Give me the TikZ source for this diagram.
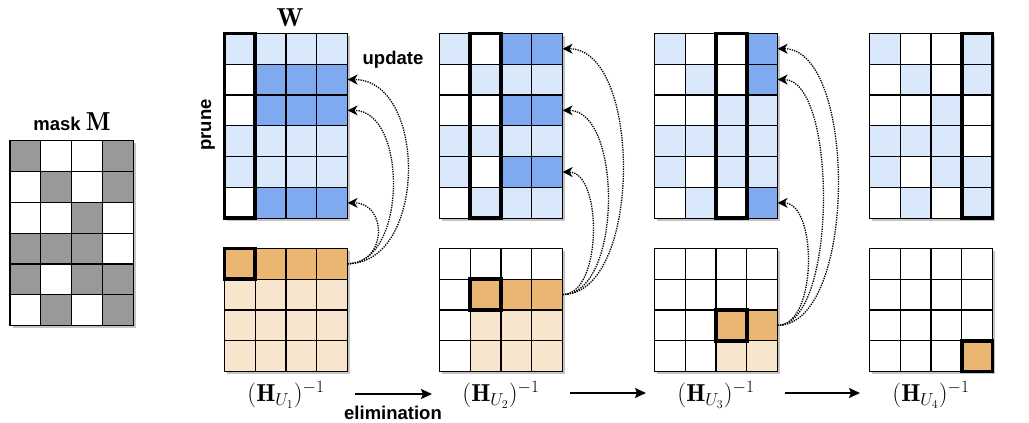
\documentclass[tikz,border=0pt]{standalone}
\usepackage{fontspec}
\newfontfamily\labfont{Liberation Sans}
\usetikzlibrary{arrows.meta}
\definecolor{colL}{HTML}{DAE8FC}
\definecolor{colD}{HTML}{7FAAF0}
\definecolor{colW}{HTML}{FFFFFF}
\definecolor{colO}{HTML}{EAB672}
\definecolor{colP}{HTML}{F7E6CD}
\definecolor{colG}{HTML}{999999}
\definecolor{shadowc}{HTML}{C4C4C4}
\tikzset{
  cell/.style={draw=black, line width=1.2pt, minimum width=30.83pt, minimum height=30.83pt, inner sep=0pt, outer sep=0pt},
  hl/.style={draw=black, line width=3.6pt},
  upd/.style={line width=1.3pt, dash pattern=on 1.3pt off 1.1pt, -{Stealth[length=10pt,width=10pt,inset=3pt]}},
  elim/.style={line width=1.5pt, -{Stealth[length=11pt,width=10pt,inset=2pt]}},
  lab/.style={font=\labfont\bfseries\fontsize{18.5}{22}\selectfont, inner sep=0pt},
  mlab/.style={font=\fontsize{24.5}{28}\selectfont, inner sep=0pt}
}
\newcommand\mygrid[5]{%
  \fill[shadowc] ({#2+2.5},{#3+2.5}) rectangle ({#2+2.5+4*30.83},{#3+2.5+#5*30.83});
  \foreach \rowlist [count=\r] in {#4} {
    \foreach \cc [count=\k] in \rowlist {
      \node[cell, fill=col\cc] (#1-\r-\k) at ({#2+(\k-0.5)*30.83},{#3+(\r-0.5)*30.83}) {};
    }
  }
}
\begin{document}
\begin{tikzpicture}[x=1pt,y=-1pt]
\useasboundingbox (0,0) rectangle (1029,423);
% mask
\mygrid{m}{10}{140.7}{{G,W,W,G},{W,G,W,G},{W,W,G,W},{G,G,G,W},{G,W,G,G},{W,G,W,G}}{6}
\node[lab] (masklab) at (72,122) {mask\ {\fontsize{26}{30}\selectfont$\mathbf{M}$}};
% W matrices
\mygrid{wa}{224.3}{33.3}{{L,L,L,L},{W,D,D,D},{W,D,D,D},{L,L,L,L},{L,L,L,L},{W,D,D,D}}{6}
\mygrid{wb}{439.3}{33.3}{{L,W,D,D},{W,L,L,L},{W,W,D,D},{L,L,L,L},{L,W,D,D},{W,L,L,L}}{6}
\mygrid{wc}{654.3}{33.3}{{L,W,W,D},{W,L,W,D},{W,W,L,L},{L,L,L,L},{L,W,L,L},{W,L,W,D}}{6}
\mygrid{wd}{869.3}{33.3}{{L,W,W,L},{W,L,W,L},{W,W,L,W},{L,L,L,W},{L,W,L,L},{W,L,W,L}}{6}
% H matrices
\mygrid{ha}{224.3}{248.3}{{O,O,O,O},{P,P,P,P},{P,P,P,P},{P,P,P,P}}{4}
\mygrid{hb}{439.3}{248.3}{{W,W,W,W},{W,O,O,O},{W,P,P,P},{W,P,P,P}}{4}
\mygrid{hc}{654.3}{248.3}{{W,W,W,W},{W,W,W,W},{W,W,O,O},{W,W,P,P}}{4}
\mygrid{hd}{869.3}{248.3}{{W,W,W,W},{W,W,W,W},{W,W,W,W},{W,W,W,O}}{4}
% highlights
\draw[hl] (wa-1-1.north west) rectangle (wa-6-1.south east);
\draw[hl] (wb-1-2.north west) rectangle (wb-6-2.south east);
\draw[hl] (wc-1-3.north west) rectangle (wc-6-3.south east);
\draw[hl] (wd-1-4.north west) rectangle (wd-6-4.south east);
\draw[hl] (ha-1-1.north west) rectangle (ha-1-1.south east);
\draw[hl] (hb-2-2.north west) rectangle (hb-2-2.south east);
\draw[hl] (hc-3-3.north west) rectangle (hc-3-3.south east);
\draw[hl] (hd-4-4.north west) rectangle (hd-4-4.south east);
% labels
\node[mlab, font=\fontsize{26}{30}\selectfont] (wlab) at (290,18) {$\mathbf{W}$};
\node[lab, rotate=90] (prune) at (208,125) {prune};
\node[lab] (update) at (393,60) {update};
\node[mlab] (hla) at (286,395) {$(\mathbf{H}_{U_1})^{-1}$};
\node[mlab] (hlb) at (501,395) {$(\mathbf{H}_{U_2})^{-1}$};
\node[mlab] (hlc) at (716,395) {$(\mathbf{H}_{U_3})^{-1}$};
\node[mlab] (hld) at (931,395) {$(\mathbf{H}_{U_4})^{-1}$};
\node[lab] (elimlab) at (393,413) {elimination};
% elimination arrows
\coordinate (e1s) at (355,394); \coordinate (e1e) at (432,394);
\coordinate (e2s) at (570,393); \coordinate (e2e) at (646,393);
\coordinate (e3s) at (785,393); \coordinate (e3e) at (860,393);
\draw[elim] (e1s) -- (e1e);
\draw[elim] (e2s) -- (e2e);
\draw[elim] (e3s) -- (e3e);
% update arrows
\draw[upd] (ha-1-4.east) .. controls +(80,0) and +(80,0) .. (wa-2-4.east);
\draw[upd] (ha-1-4.east) .. controls +(60,0) and +(60,0) .. (wa-3-4.east);
\draw[upd] (ha-1-4.east) .. controls +(40,0) and +(40,0) .. (wa-6-4.east);
\draw[upd] (hb-2-4.east) .. controls +(80,0) and +(80,0) .. (wb-1-4.east);
\draw[upd] (hb-2-4.east) .. controls +(60,0) and +(60,0) .. (wb-3-4.east);
\draw[upd] (hb-2-4.east) .. controls +(40,0) and +(40,0) .. (wb-5-4.east);
\draw[upd] (hc-3-4.east) .. controls +(80,0) and +(80,0) .. (wc-1-4.east);
\draw[upd] (hc-3-4.east) .. controls +(60,0) and +(60,0) .. (wc-2-4.east);
\draw[upd] (hc-3-4.east) .. controls +(40,0) and +(40,0) .. (wc-6-4.east);
\end{tikzpicture}
\end{document}
